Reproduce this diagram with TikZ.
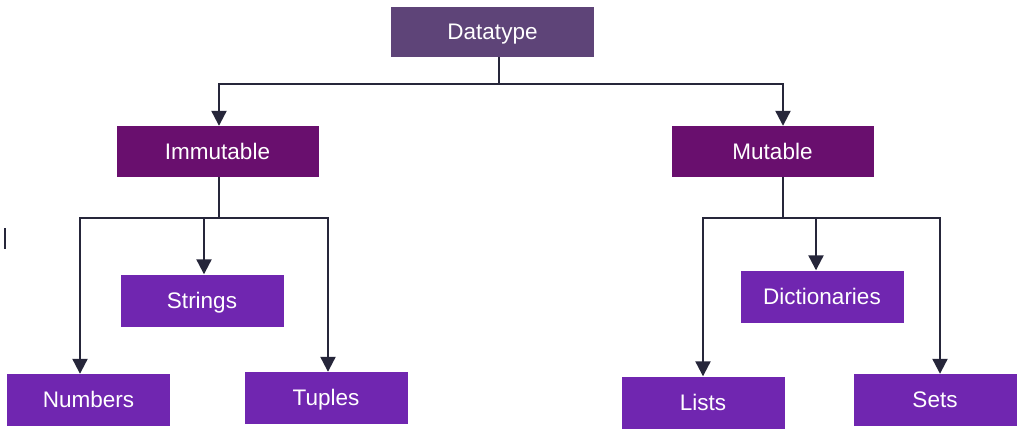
\documentclass[tikz,border=0pt]{standalone}
\usepackage{fontspec}
\setmainfont{Liberation Sans}
\usetikzlibrary{arrows.meta,calc}
\definecolor{topc}{HTML}{5E4478}
\definecolor{midc}{HTML}{690F6E}
\definecolor{leafc}{HTML}{7026B0}
\definecolor{linec}{HTML}{26263A}
\begin{document}
\begin{tikzpicture}[x=1pt,y=-1pt,
  box/.style={rectangle,inner sep=0pt,text=white,font=\fontsize{22.5}{26}\selectfont,text depth=1pt},
  topbox/.style={box,fill=topc,minimum width=203pt,minimum height=50pt},
  midbox/.style={box,fill=midc,minimum width=202pt,minimum height=51pt},
  leafbox/.style={box,fill=leafc,minimum width=163pt,minimum height=52pt},
  wire/.style={draw=linec,line width=2.2pt},
  arr/.style={wire,-{Triangle[length=15pt,width=15pt]}}]
\useasboundingbox[fill=white] (0,0) rectangle (1021,434);
% nodes
\node[topbox] (Datatype) at (492.5,32) {Datatype};
\node[midbox] (Immutable) at (217.5,151.5) {Immutable};
\node[midbox] (Mutable) at (772.5,151.5) {Mutable};
\node[leafbox] (Strings) at (202,300.5) {Strings};
\node[leafbox] (Numbers) at (88.5,400) {Numbers};
\node[leafbox] (Tuples) at (326,398) {Tuples};
\node[leafbox] (Dictionaries) at (822,296.5) {Dictionaries};
\node[leafbox] (Lists) at (703,402.5) {Lists};
\node[leafbox] (Sets) at (935,400) {Sets};
% junctions
\coordinate (hub1) at (499,84);
\coordinate (hub2) at (219,218);
\coordinate (hub3) at (783,218);
% top level
\draw[wire] (Datatype.south -| hub1) -- (hub1);
\draw[arr] (hub1) -| ([xshift=1.5pt]Immutable.north);
\draw[arr] (hub1) -| ([xshift=10.5pt]Mutable.north);
% immutable branch
\draw[wire] (Immutable.south -| hub2) -- (hub2);
\draw[arr] (hub2) -| ([xshift=-8.5pt]Numbers.north);
\draw[arr] (hub2) -| ([xshift=2pt]Strings.north);
\draw[arr] (hub2) -| ([xshift=2pt]Tuples.north);
% mutable branch
\draw[wire] (Mutable.south -| hub3) -- (hub3);
\draw[arr] (hub3) -| (Lists.north);
\draw[arr] (hub3) -| ([xshift=-6pt]Dictionaries.north);
\draw[arr] (hub3) -| ([xshift=5pt]Sets.north);
% stray mark
\draw[draw=linec,line width=1.5pt] (5,228) -- (5,249);
\end{tikzpicture}
\end{document}
